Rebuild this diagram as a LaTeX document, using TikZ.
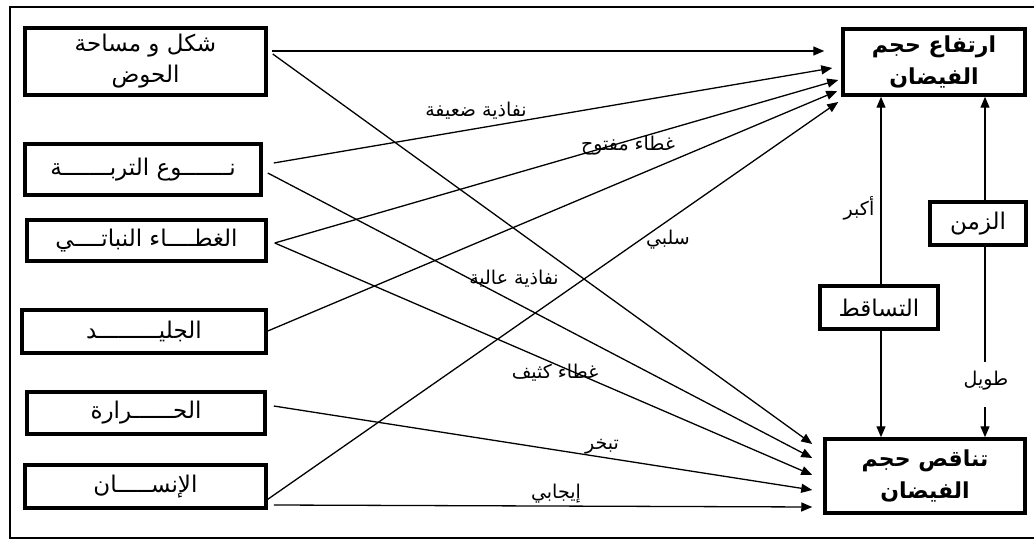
\documentclass[tikz,border=0pt]{standalone}
\usepackage{fontspec}
\usetikzlibrary{arrows.meta,calc}
\TeXXeTstate=1
\newfontfamily\arabicfont[Script=Arabic]{DejaVu Sans}
\newcommand{\AR}[1]{\beginR #1\endR}
\tikzset{
  box/.style={draw, line width=3.5pt, inner sep=0pt, align=center, font=\arabicfont\fontsize{23}{31}\selectfont},
  bbox/.style={box, font=\arabicfont\bfseries\fontsize{22}{32}\selectfont},
  conn/.style={line width=1.3pt},
  arr/.style={conn, -{Triangle[length=11pt,width=9pt]}},
  lbl/.style={inner sep=0pt, font=\arabicfont\fontsize{19}{21}\selectfont}
}
\begin{document}
\begin{tikzpicture}[x=1pt,y=-1pt]
\useasboundingbox (0,0) rectangle (1034,548);
% outer frame
\draw[line width=2.8pt] (1040,7) -- (10,7) -- (10,538) -- (1040,538);

% left boxes
\node[box, minimum width=241pt, minimum height=67pt] (n1) at (145.5,61.5) {\AR{شكل و مساحة}\\\AR{الحوض}};
\node[box, minimum width=236pt, minimum height=51pt] (n2) at (143,169.5) {\AR{نـــــــوع التربـــــــة}};
\node[box, minimum width=239pt, minimum height=41pt] (n3) at (146.5,240.5) {\AR{الغطــــاء النباتــــي}};
\node[box, minimum width=244pt, minimum height=43pt] (n4) at (144,331.5) {\AR{الجليـــــــــد}};
\node[box, minimum width=238pt, minimum height=42pt] (n5) at (146,413) {\AR{الحــــــرارة}};
\node[box, minimum width=241pt, minimum height=43pt] (n6) at (145.5,486.5) {\AR{الإنســـــان}};

% right boxes
\node[bbox, minimum width=182pt, minimum height=66pt] (top) at (934,62) {\AR{ارتفاع حجم}\\\AR{الفيضان}};
\node[bbox, minimum width=200pt, minimum height=74pt] (bot) at (925,476) {\AR{تناقص حجم}\\\AR{الفيضان}};
\node[box, minimum width=96pt, minimum height=43pt] (zaman) at (978,223.5) {\AR{الزمن}};
\node[box, minimum width=118pt, minimum height=43pt] (tasaqut) at (879,307.5) {\AR{التساقط}};

% start points
\coordinate (s1a) at ($(n1.east)+(4,-10.5)$);
\coordinate (s1b) at ($(n1.east)+(5,-7.5)$);
\coordinate (s2a) at ($(n2.east)+(11,-6.5)$);
\coordinate (s2b) at ($(n2.east)+(5,3.5)$);
\coordinate (s3) at ($(n3.east)+(7,2.5)$);
\coordinate (s4) at ($(n4.east)+(0,-0.5)$);
\coordinate (s5) at ($(n5.east)+(7,-7)$);
\coordinate (s6a) at ($(n6.east)+(-1,13.5)$);
\coordinate (s6b) at ($(n6.east)+(6,18.5)$);

% end points at top box
\coordinate (t1) at ($(top.west)+(-17,-11)$);
\coordinate (t2) at ($(top.west)+(-9,6)$);
\coordinate (t3) at ($(top.west)+(-3,18)$);
\coordinate (t4) at ($(top.west)+(-4,29)$);
\coordinate (t5) at ($(top.west)+(-3,40)$);
% end points at bottom box
\coordinate (b1) at ($(bot.west)+(-11,-32)$);
\coordinate (b2) at ($(bot.west)+(-11,-18)$);
\coordinate (b3) at ($(bot.west)+(-11,-1)$);
\coordinate (b4) at ($(bot.west)+(-11,14)$);
\coordinate (b5) at ($(bot.west)+(-11,31)$);

% connectors to top box
\draw[arr] (s1a) -- (t1);
\draw[arr] (s2a) -- (t2);
\draw[arr] (s3) -- (t3);
\draw[arr] (s4) -- (t4);
\draw[arr] (s6a) -- (t5);
% connectors to bottom box
\draw[arr] (s1b) -- (b1);
\draw[arr] (s2b) -- (b2);
\draw[arr] (s3) -- (b3);
\draw[arr] (s5) -- (b4);
\draw[arr] (s6b) -- (b5);

% vertical connectors
\coordinate (xa) at (881,0);
\coordinate (xb) at (985,0);
\draw[arr] (xa |- tasaqut.north) -- (xa |- top.south);
\draw[arr] (xa |- tasaqut.south) -- (xa |- bot.north);
\draw[arr] (xb |- zaman.north) -- (xb |- top.south);
\coordinate (tw1) at (985,362);
\coordinate (tw2) at (985,407);
\draw[conn] (xb |- zaman.south) -- (tw1);
\draw[arr] (tw2) -- (xb |- bot.north);

% labels
\node[lbl] (l1) at (476,111) {\AR{نفاذية ضعيفة}};
\node[lbl] (l2) at (628,146) {\AR{غطاء مفتوح}};
\node[lbl] (l3) at (668,240) {\AR{سلبي}};
\node[lbl] (l4) at (514,279) {\AR{نفاذية عالية}};
\node[lbl] (l5) at (555,373) {\AR{غطاء كثيف}};
\node[lbl] (l6) at (602,447) {\AR{تبخر}};
\node[lbl] (l7) at (556,494) {\AR{إيجابي}};
\node[lbl] (l8) at (859,208) {\AR{أكبر}};
\node[lbl] (l9) at (986,381) {\AR{طويل}};
\end{tikzpicture}
\end{document}
